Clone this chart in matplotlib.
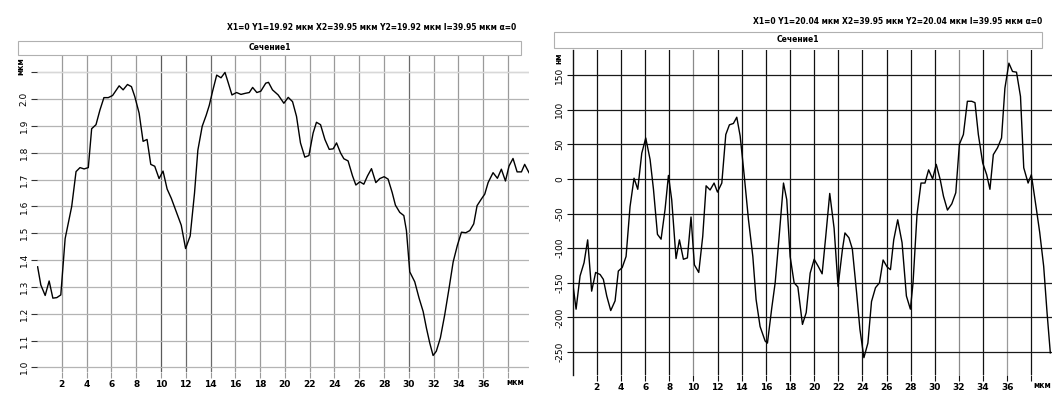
import matplotlib
matplotlib.use("Agg")
import matplotlib.pyplot as plt
from matplotlib.patches import Rectangle

# left profile (мкм)
left_x = [0.05, 0.31, 0.66, 0.98, 1.28, 1.6, 1.92, 2.27, 2.8, 3.15, 3.47, 3.8, 4.14, 4.41,
          4.76, 5.08, 5.4, 5.75, 6.1, 6.63, 6.95, 7.3, 7.62, 7.89, 8.24, 8.56, 8.88, 9.18,
          9.5, 9.85, 10.17, 10.5, 10.84, 11.24, 11.64, 11.99, 12.36, 12.71, 12.98, 13.33,
          13.65, 13.9, 14.17, 14.5, 14.85, 15.17, 15.44, 15.73, 16.1, 16.46, 16.8, 17.13,
          17.4, 17.74, 18.06, 18.46, 18.68, 19.0, 19.46, 19.92, 20.27, 20.62, 20.94, 21.26,
          21.61, 21.94, 22.28, 22.55, 22.88, 23.23, 23.58, 23.9, 24.17, 24.49, 24.76, 25.1,
          25.46, 25.73, 26.05, 26.37, 26.67, 26.99, 27.34, 27.66, 28.01, 28.33, 28.66, 28.92,
          29.27, 29.6, 29.81, 30.08, 30.48, 30.83, 31.16, 31.42, 31.69, 31.96, 32.22, 32.55,
          32.9, 33.25, 33.58, 33.92, 34.25, 34.6, 34.92, 35.24, 35.51, 35.86, 36.13, 36.4,
          36.8, 37.15, 37.47, 37.8, 38.09, 38.41, 38.74, 39.09, 39.35, 39.7]
left_y = [1.375, 1.307, 1.268, 1.322, 1.258, 1.26, 1.27, 1.48, 1.60, 1.73, 1.745, 1.74,
          1.745, 1.89, 1.905, 1.96, 2.006, 2.006, 2.014, 2.05, 2.035, 2.055, 2.047, 2.01,
          1.948, 1.843, 1.85, 1.757, 1.75, 1.704, 1.732, 1.665, 1.63, 1.58, 1.53, 1.443,
          1.49, 1.65, 1.81, 1.899, 1.94, 1.977, 2.03, 2.09, 2.08, 2.10, 2.06, 2.016, 2.025,
          2.018, 2.022, 2.025, 2.044, 2.025, 2.03, 2.06, 2.063, 2.035, 2.016, 1.985, 2.007,
          1.991, 1.936, 1.837, 1.784, 1.79, 1.874, 1.914, 1.905, 1.85, 1.813, 1.815, 1.837,
          1.80, 1.778, 1.77, 1.714, 1.68, 1.692, 1.683, 1.714, 1.741, 1.689, 1.704, 1.711,
          1.702, 1.652, 1.605, 1.578, 1.566, 1.51, 1.356, 1.319, 1.258, 1.208, 1.147, 1.091,
          1.044, 1.06, 1.11, 1.196, 1.295, 1.393, 1.455, 1.504, 1.502, 1.51, 1.535, 1.603,
          1.628, 1.646, 1.689, 1.726, 1.705, 1.739, 1.695, 1.751, 1.779, 1.729, 1.729,
          1.757, 1.726]

# right profile (нм)
right_x = [0.0, 0.28, 0.61, 0.94, 1.24, 1.57, 1.9, 2.27, 2.54, 2.82, 3.15, 3.51, 3.78, 4.1,
           4.42, 4.75, 5.08, 5.39, 5.72, 6.05, 6.41, 6.69, 7.02, 7.32, 7.65, 7.93, 8.2,
           8.56, 8.84, 9.17, 9.5, 9.8, 10.08, 10.44, 10.77, 11.05, 11.38, 11.71, 11.99,
           12.35, 12.68, 12.98, 13.31, 13.59, 13.87, 14.2, 14.56, 14.92, 15.19, 15.52,
           15.94, 16.13, 16.49, 16.77, 17.1, 17.46, 17.73, 18.01, 18.34, 18.65, 19.03,
           19.34, 19.67, 20.0, 20.33, 20.66, 20.96, 21.29, 21.65, 21.98, 22.34, 22.55,
           22.88, 23.16, 23.52, 23.79, 24.12, 24.45, 24.75, 25.08, 25.41, 25.71, 26.04,
           26.32, 26.59, 26.92, 27.28, 27.64, 27.97, 28.19, 28.52, 28.85, 29.18, 29.48,
           29.81, 30.11, 30.44, 30.71, 31.04, 31.4, 31.73, 32.03, 32.36, 32.69, 33.05,
           33.32, 33.6, 33.96, 34.29, 34.56, 34.84, 35.19, 35.52, 35.8, 36.13, 36.43,
           36.76, 37.09, 37.36, 37.72, 37.99, 38.41, 38.68, 39.01, 39.29, 39.56]
right_y = [-150, -188, -140, -121, -88, -162, -135, -138, -145, -169, -190, -176, -133,
           -128, -112, -40, 1, -15, 37, 59, 28, -15, -80, -87, -44, 5, -30, -115, -88,
           -116, -114, -55, -124, -135, -83, -10, -16, -6, -19, -6, 64, 78, 80, 89, 62, 6,
           -59, -112, -174, -213, -234, -237, -186, -150, -83, -6, -30, -112, -150, -156,
           -210, -193, -136, -116, -126, -137, -83, -21, -71, -155, -102, -78, -85, -101,
           -165, -217, -258, -237, -177, -157, -150, -117, -127, -131, -88, -59, -92, -169,
           -188, -150, -51, -6, -6, 13, 0, 21, -1, -25, -45, -36, -20, 50, 64, 112, 112,
           110, 64, 23, 6, -15, 35, 45, 59, 131, 167, 155, 154, 119, 16, -6, 6, -44, -77,
           -126, -193, -251]

x_ticks = list(range(2, 38, 2))
left_yticks = [1.0, 1.1, 1.2, 1.3, 1.4, 1.5, 1.6, 1.7, 1.8, 1.9, 2.0, 2.1]
right_yticks = [-250, -200, -150, -100, -50, 0, 50, 100, 150]

title_left = "X1=0 Y1=19.92 мкм X2=39.95 мкм Y2=19.92 мкм l=39.95 мкм α=0"
title_right = "X1=0 Y1=20.04 мкм X2=39.95 мкм Y2=20.04 мкм l=39.95 мкм α=0"

W, H = 1060, 399
fig = plt.figure(figsize=(W / 100, H / 100), dpi=100)


def frac(x0, y0, x1, y1):
    # pixel box (top-left origin) -> figure fraction rect
    return [x0 / W, 1 - y1 / H, (x1 - x0) / W, (y1 - y0) / H]


def header(x0, y0, x1, y1, label):
    fig.patches.append(Rectangle((x0 / W, 1 - y1 / H), (x1 - x0) / W, (y1 - y0) / H,
                                 transform=fig.transFigure, facecolor="white",
                                 edgecolor="#b0b0b0", lw=0.8))
    fig.text((x0 + x1) / 2 / W, 1 - (y0 + y1) / 2 / H, label, ha="center", va="center",
             fontsize=5.5, fontweight="bold")


def style(ax, vcol, hcol, dark, ycol):
    for s in ax.spines.values():
        s.set_visible(False)
    for t in x_ticks + [38]:
        c = dark.get(t, vcol)
        ax.axvline(t, color=c, lw=0.9, zorder=1)
    for t in ax.get_yticks():
        ax.axhline(t, color=hcol, lw=0.9, zorder=1)
    ax.set_xticks(x_ticks + [38])
    ax.set_xticklabels([str(t) for t in x_ticks] + [""], fontsize=6.5, fontweight="bold")
    ax.tick_params(axis="x", length=4, width=0.8, color=vcol, pad=2)
    ax.tick_params(axis="y", length=4, width=0.8, color=ycol, pad=2, labelsize=6.5)
    for lab in ax.get_yticklabels():
        lab.set_rotation(90)
        lab.set_va("center")


# left chart
axL = fig.add_axes(frac(37, 55, 529, 372))
axL.plot(left_x, left_y, color="black", lw=1.0, zorder=3)
axL.set_xlim(0, 39.7)
axL.set_ylim(0.9825, 2.165)
axL.set_yticks(left_yticks)
axL.set_yticklabels([f"{v:.1f}" for v in left_yticks[:-1]] + [""])
style(axL, "#9a9a9a", "#b4b4b4", {10: "#5a5a5a", 12: "#6a6a6a", 14: "#6a6a6a", 30: "#6a6a6a"},
      "#333333")
axL.axhline(2.1, color="#d8d8d8", lw=0.9, zorder=1)
axL.text(38.6, -0.02, "мкм", transform=axL.get_xaxis_transform(), ha="center", va="top",
         fontsize=5.5, fontweight="bold")
axL.text(-0.032, 2.155, "мкм", transform=axL.get_yaxis_transform(), rotation=90,
         ha="center", va="top", fontsize=5.5, fontweight="bold")
header(18, 41, 521, 55, "Сечение1")
fig.text(516 / W, 1 - 27 / H, title_left, ha="right", va="center", fontsize=5.5,
         fontweight="bold")

# right chart
axR = fig.add_axes(frac(572.7, 50, 1052, 375))
axR.plot(right_x, right_y, color="black", lw=1.0, zorder=3)
axR.set_xlim(0, 39.7)
axR.set_ylim(-283, 186)
axR.set_yticks(right_yticks)
axR.set_yticklabels([str(v) for v in right_yticks])
style(axR, "#111111", "#1a1a1a", {10: "#8a8a8a", 32: "#8a8a8a", 36: "#9a9a9a"}, "#111111")
axR.spines["left"].set_visible(True)
axR.spines["left"].set_color("#111111")
axR.spines["left"].set_linewidth(1.0)
axR.text(38.9, -0.02, "мкм", transform=axR.get_xaxis_transform(), ha="center", va="top",
         fontsize=5.5, fontweight="bold")
axR.text(-0.028, 183, "нм", transform=axR.get_yaxis_transform(), rotation=90,
         ha="center", va="top", fontsize=5.5, fontweight="bold")
header(554, 32, 1042, 48, "Сечение1")
fig.text(1042 / W, 1 - 21 / H, title_right, ha="right", va="center", fontsize=5.5,
         fontweight="bold")

fig.savefig("out.png", dpi=100)
